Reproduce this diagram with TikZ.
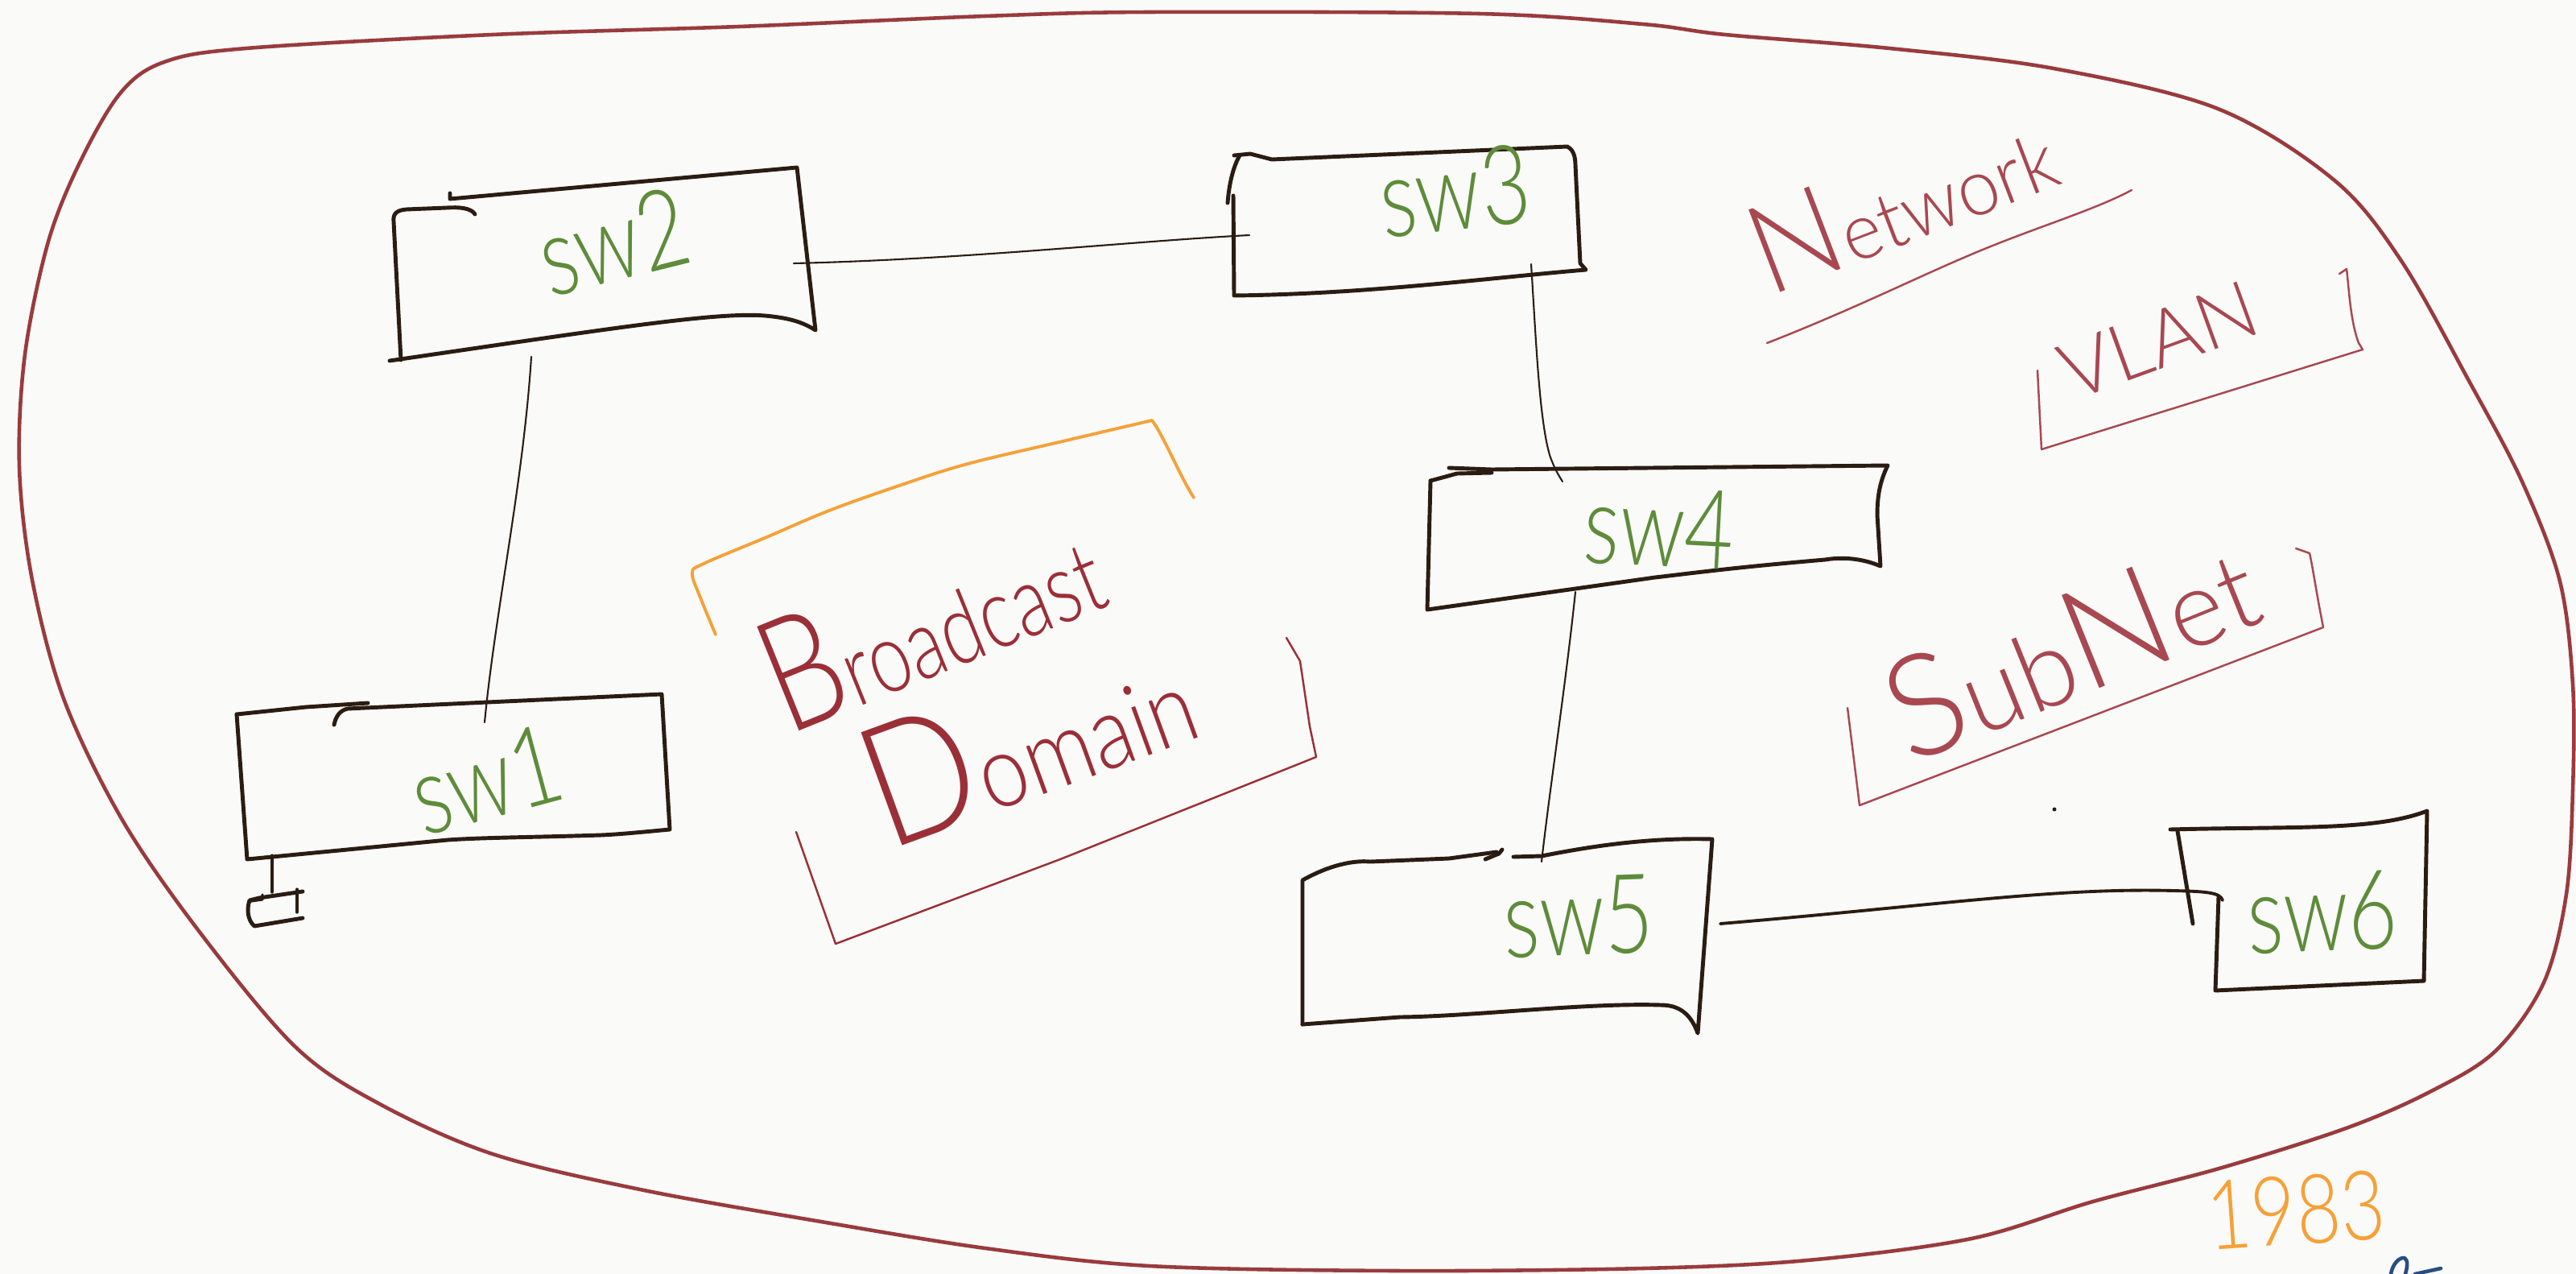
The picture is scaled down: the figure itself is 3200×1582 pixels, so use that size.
\documentclass[tikz,border=0pt]{standalone}
\usepackage{fontspec}
\setmainfont{Lato-Light.ttf}
\definecolor{paper}{HTML}{FAFAF9}
\definecolor{netred}{HTML}{993B3D}
\definecolor{ink}{HTML}{2B1C12}
\definecolor{swgreen}{HTML}{5E8C3A}
\definecolor{wordred}{HTML}{A84850}
\definecolor{bcred}{HTML}{9B2F37}
\definecolor{penorange}{HTML}{F5A138}
\definecolor{penblue}{HTML}{284E80}
\begin{document}
\begin{tikzpicture}[x=0.01cm,y=-0.01cm,line cap=round,line join=round,
  boundary/.style={draw=netred,line width=1.3pt},
  swbox/.style={draw=ink,line width=1.4pt},
  wire/.style={draw=ink,line width=0.6pt},
  thickwire/.style={draw=ink,line width=1.1pt},
  swlabel/.style={text=swgreen,font=\fontsize{30}{30}\selectfont,yscale=1.3,inner sep=0pt},
  redword/.style={text=wordred,inner sep=0pt,anchor=base},
  bcword/.style={text=bcred,inner sep=0pt,anchor=base},
  bracket/.style={draw=wordred,line width=0.7pt},
  orangebr/.style={draw=penorange,line width=1.1pt}]

% paper
\fill[paper] (0,0) rectangle (3200,1582);
\useasboundingbox (0,0) rectangle (3200,1582);

% network boundary
\draw[boundary] plot[smooth cycle,tension=0.55] coordinates {
 (204,77) (306,60) (612,43) (918,33) (1224,20) (1428,15) (1837,17) (2041,30)
 (2143,43) (2347,60) (2551,85) (2755,135) (2900,224) (2983,324) (3067,473)
 (3133,598) (3180,722) (3196,850) (3196,980) (3188,1110) (3160,1220)
 (3100,1305) (3020,1355) (2917,1400) (2760,1450) (2600,1492) (2449,1538)
 (2245,1565) (2041,1575) (1735,1578) (1428,1572) (1224,1550) (1020,1517)
 (800,1478) (612,1433) (470,1370) (367,1300) (250,1160) (153,1020) (80,870)
 (40,720) (24,580) (31,440) (60,300) (100,200) (150,115)};

% sw2
\draw[swbox] (590,266) .. controls (585,258) and (570,257) .. (555,258) -- (505,260)
  .. controls (492,261) and (488,266) .. (489,275) -- (498,447);
\draw[swbox] (484,448) -- (641,425) .. controls (800,402) and (900,388) .. (950,392)
  .. controls (985,395) and (1000,402) .. (1013,410) -- (990,208) -- (559,247) -- (559,240);
% sw3
\draw[swbox] (1533,193) -- (1553,191) -- (1580,198) -- (1947,182)
  .. controls (1953,185) and (1957,192) .. (1957,205) -- (1963,327) -- (1970,335)
  .. controls (1850,345) and (1700,365) .. (1533,367) -- (1532,243);
\draw[swbox] (1525,252) .. controls (1527,225) and (1533,205) .. (1540,193);
% sw4
\draw[swbox] (1777,597) -- (1810,588) -- (1853,587);
\draw[swbox] (1800,581) -- (1853,583) -- (2345,578)
  .. controls (2334,600) and (2332,620) .. (2332,640) -- (2336,703)
  .. controls (2310,692) and (2285,692) .. (2267,695)
  .. controls (2150,705) and (2100,712) .. (2056,717) -- (1773,757) -- (1777,597);
% sw1
\draw[swbox] (294,887) -- (380,878) -- (457,873);
\draw[swbox] (415,900) .. controls (417,890) and (422,882) .. (432,880) -- (822,862)
  -- (832,1030) .. controls (800,1033) and (770,1036) .. (747,1037)
  .. controls (650,1040) and (600,1040) .. (556,1043) -- (307,1067) -- (294,887);
% device hanging below sw1
\draw[swbox,line width=0.9pt] (338,1062) -- (338,1108);
\draw[swbox] (376,1107) -- (322,1115) -- (310,1118)
  .. controls (306,1130) and (308,1143) .. (316,1150) -- (376,1140);
\draw[swbox,line width=0.9pt] (369,1104) -- (369,1133);
\draw[swbox,line width=0.9pt] (312,1119) -- (326,1117) -- (326,1111);
% sw5
\draw[swbox] (1618,1272) -- (1618,1093) .. controls (1650,1075) and (1680,1068) .. (1702,1070)
  -- (1800,1066) -- (1859,1058);
\draw[swbox] (1845,1067) -- (1862,1060) -- (1866,1055);
\draw[swbox] (1880,1064) -- (1915,1063) .. controls (1980,1050) and (2050,1040) .. (2127,1042)
  -- (2109,1283) .. controls (2100,1258) and (2085,1248) .. (2063,1248)
  .. controls (1970,1245) and (1830,1262) .. (1739,1263) -- (1618,1272);
% sw6
\draw[swbox] (2696,1030) .. controls (2850,1026) and (2950,1032) .. (3015,1007)
  -- (3011,1218) -- (2752,1230) -- (2756,1113);
\draw[swbox] (2705,1032) -- (2724,1147);

% switch labels
\node[rotate=15,swlabel] (sw1) at (604,968) {sw1};
\node[rotate=14,swlabel] (sw2) at (762,300) {sw2};
\node[rotate=6,swlabel] (sw3) at (1807,237) {sw3};
\node[rotate=-3,swlabel] (sw4) at (2061,655) {sw4};
\node[rotate=2,swlabel] (sw5) at (1961,1138) {sw5};
\node[rotate=2,swlabel] (sw6) at (2885,1133) {sw6};

% ports
\coordinate (sw2e) at (986,327);
\coordinate (sw3w) at (1552,292);
\coordinate (sw3s) at (1902,328);
\coordinate (sw4n) at (1941,598);
\coordinate (sw2s) at (660,443);
\coordinate (sw1n) at (602,897);
\coordinate (sw4s) at (1957,735);
\coordinate (sw5n) at (1915,1070);
\coordinate (sw5e) at (2137,1147);
\coordinate (sw6w) at (2761,1118);

% links
\draw[wire] (sw2e) .. controls (1200,322) and (1400,300) .. (sw3w);
\draw[wire] (sw3s) .. controls (1908,420) and (1912,520) .. (1925,565)
  .. controls (1930,580) and (1936,590) .. (sw4n);
\draw[wire] (sw2s) .. controls (650,600) and (615,760) .. (sw1n);
\draw[wire] (sw4s) .. controls (1945,850) and (1925,980) .. (sw5n);
\draw[thickwire] (sw5e) .. controls (2400,1125) and (2550,1102) .. (2700,1106)
  .. controls (2740,1107) and (2758,1108) .. (sw6w);

% labels in red
\node[rotate=21,redword,xscale=0.95] (network) at (2381,298)
  {{\fontsize{44}{44}\selectfont N}{\fontsize{28}{28}\selectfont etwork}};
\draw[bracket] (2195,426) .. controls (2300,385) and (2380,345) .. (2444,318)
  .. controls (2520,285) and (2600,262) .. (2648,236);

\node[rotate=20,redword] (vlan) at (2693,455) {\fontsize{28}{28}\selectfont VLAN};
\draw[bracket] (2531,460) -- (2536,558) -- (2935,434) -- (2930,426)
  .. controls (2920,400) and (2918,360) .. (2915,334) -- (2906,340);

\node[rotate=22,redword,xscale=0.98] (subnet) at (2595,860)
  {{\fontsize{50}{50}\selectfont S}{\fontsize{38}{38}\selectfont ub}{\fontsize{50}{50}\selectfont N}{\fontsize{38}{38}\selectfont et}};
\draw[bracket] (2295,879) -- (2310,1000) -- (2886,779) -- (2881,753)
  .. controls (2875,720) and (2872,700) .. (2869,687) -- (2852,681);

% broadcast domain
\draw[orangebr] plot[smooth,tension=0.6] coordinates {(889,788) (870,742) (860,712)
  (874,700) (950,668) (1030,634) (1120,602) (1202,576) (1320,548) (1431,522)}
  .. controls (1445,540) and (1465,590) .. (1483,618);
\node[rotate=22,bcword,xscale=0.76] (broadcast) at (1180,832)
  {{\fontsize{56}{56}\selectfont B}{\fontsize{35}{35}\selectfont roadcast}};
\node[rotate=20,bcword,xscale=0.85] (domain) at (1300,985)
  {{\fontsize{60}{60}\selectfont D}{\fontsize{36}{36}\selectfont omain}};
\draw[bracket,draw=bcred] (989,1033) -- (1038,1172) -- (1317,1067) -- (1635,940)
  -- (1627,902) -- (1615,821) -- (1598,792);

% stray pen dot
\fill[ink] (2552,1005) circle (2.5);

% year
\node[rotate=4,text=penorange,inner sep=0pt,anchor=base,xscale=0.8,
  font=\fontsize{34}{34}\selectfont] (year) at (2855,1545) {1983};
\draw[draw=penblue,line width=1.3pt] (2970,1582) .. controls (2972,1570) and (2980,1561) .. (2987,1562)
  .. controls (2992,1565) and (2990,1575) .. (2988,1582);
\draw[draw=penblue,line width=1.3pt] (3000,1582) -- (3032,1575);
\end{tikzpicture}
\end{document}
